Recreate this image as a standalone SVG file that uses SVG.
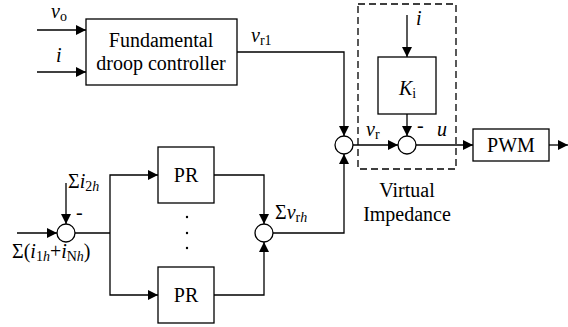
<svg xmlns="http://www.w3.org/2000/svg" width="568" height="327" viewBox="0 0 568 327">
<defs>
<marker id="ah" markerUnits="userSpaceOnUse" markerWidth="10" markerHeight="10" refX="10" refY="5" orient="auto" viewBox="0 0 10 10">
<path d="M0,0 L10,5 L0,10 z" fill="#000"/>
</marker>
<style>
.b{fill:#fff;stroke:#000;stroke-width:1.3}
.c{fill:#fff;stroke:#000;stroke-width:1.3}
.w{fill:none;stroke:#000;stroke-width:1.3}
.a{marker-end:url(#ah)}
.t{text-anchor:middle}
.i{font-style:italic}
.s{font-size:14px}
</style>
</defs>
<rect width="568" height="327" fill="#fff"/>
<g id="connectors">
<path class="w a" d="M37,30 H86"/>
<path class="w a" d="M37,72 H86"/>
<path class="w a" d="M237,52 H344 V136"/>
<path class="w a" d="M353,145 H398"/>
<path class="w a" d="M407,15 V57"/>
<path class="w a" d="M407,114 V136"/>
<path class="w a" d="M416,145 H473"/>
<path class="w a" d="M549,145 H568"/>
<path class="w a" d="M17,233 H57"/>
<path class="w a" d="M66,183 V224"/>
<path class="w" d="M75,233 H110"/>
<path class="w a" d="M110,233 V175 H158"/>
<path class="w a" d="M110,233 V295 H158"/>
<path class="w a" d="M214,175 H264 V224"/>
<path class="w a" d="M214,295 H264 V242"/>
<path class="w a" d="M273,233 H344 V154"/>
</g>
<g id="fundamental">
<rect class="b" x="86" y="19" width="151" height="66"/>
<text class="t" font-family="Liberation Serif" font-size="20" x="161" y="47">Fundamental</text>
<text class="t" font-family="Liberation Serif" font-size="20" x="161" y="70">droop controller</text>
</g>
<g id="virtual-impedance">
<rect x="358" y="4" width="98" height="165" fill="none" stroke="#000" stroke-width="1.3" stroke-dasharray="7,4"/>
<text class="t" font-family="Liberation Serif" font-size="20" x="407" y="197">Virtual</text>
<text class="t" font-family="Liberation Serif" font-size="20" x="407" y="221">Impedance</text>
</g>
<g id="ki">
<rect class="b" x="378" y="57" width="58" height="57"/>
<text font-family="Liberation Serif" font-size="20" x="399" y="95"><tspan class="i">K</tspan><tspan class="s" dy="3">i</tspan></text>
</g>
<g id="sum1"><circle class="c" cx="344" cy="145" r="9"/></g>
<g id="sum2"><circle class="c" cx="407" cy="145" r="9"/></g>
<g id="pwm">
<rect class="b" x="473" y="129" width="76" height="32"/>
<text class="t" font-family="Liberation Serif" font-size="20" x="511" y="152">PWM</text>
</g>
<g id="sum-in"><circle class="c" cx="66" cy="233" r="9"/></g>
<g id="pr1">
<rect class="b" x="158" y="147" width="56" height="56"/>
<text class="t" font-family="Liberation Serif" font-size="20" x="186" y="182">PR</text>
</g>
<g id="pr2">
<rect class="b" x="158" y="267" width="56" height="56"/>
<text class="t" font-family="Liberation Serif" font-size="20" x="186" y="302">PR</text>
</g>
<g id="dots">
<circle cx="187" cy="217" r="1.2" fill="#000"/>
<circle cx="187" cy="233" r="1.2" fill="#000"/>
<circle cx="187" cy="248" r="1.2" fill="#000"/>
</g>
<g id="sum-h"><circle class="c" cx="264" cy="233" r="9"/></g>
<g id="labels">
<text font-family="Liberation Serif" font-size="20" x="51" y="18"><tspan class="i">v</tspan><tspan class="s" dy="3">o</tspan></text>
<text class="i" font-family="Liberation Serif" font-size="20" x="56" y="62">i</text>
<text font-family="Liberation Serif" font-size="20" x="251" y="42"><tspan class="i">v</tspan><tspan class="s" dy="3">r1</tspan></text>
<text class="i" font-family="Liberation Serif" font-size="20" x="416" y="25">i</text>
<text font-family="Liberation Serif" font-size="20" x="366" y="136"><tspan class="i">v</tspan><tspan class="s" dy="3">r</tspan></text>
<text font-family="Liberation Serif" font-size="20" x="417" y="132">-</text>
<text class="i" font-family="Liberation Serif" font-size="20" x="437" y="136">u</text>
<text font-family="Liberation Serif" font-size="20" x="68" y="188">Σ<tspan class="i">i</tspan><tspan class="s" dy="3">2</tspan><tspan class="s i">h</tspan></text>
<text font-family="Liberation Serif" font-size="20" x="76" y="219">-</text>
<text font-family="Liberation Serif" font-size="20" x="12" y="258">Σ(<tspan class="i">i</tspan><tspan class="s" dy="3">1</tspan><tspan class="s i">h</tspan><tspan dy="-3">+</tspan><tspan class="i">i</tspan><tspan class="s" dy="3">N</tspan><tspan class="s i">h</tspan><tspan dy="-3">)</tspan></text>
<text font-family="Liberation Serif" font-size="20" x="275" y="219">Σ<tspan class="i">v</tspan><tspan class="s" dy="3">r</tspan><tspan class="s i">h</tspan></text>
</g>
</svg>
